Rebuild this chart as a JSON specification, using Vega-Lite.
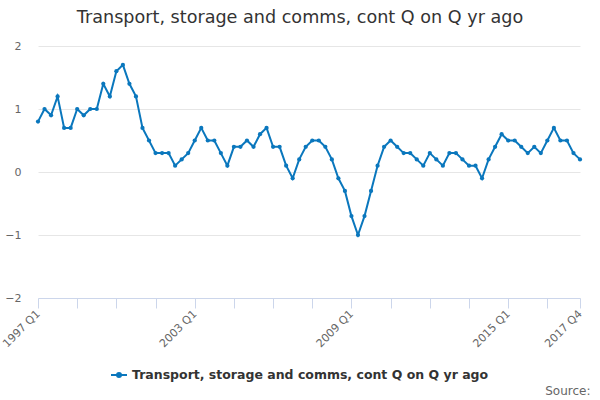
{
  "$schema": "https://vega.github.io/schema/vega-lite/v6.json",
  "description": "Transport, storage and comms, contribution Q on Q a year ago, 1997 Q1 to 2017 Q4",
  "width": 542,
  "height": 252,
  "autosize": {"type": "none"},
  "padding": {"left": 38, "top": 46, "right": 20, "bottom": 102},
  "background": "white",
  "title": {
    "text": "Transport, storage and comms, cont Q on Q yr ago",
    "anchor": "middle",
    "dx": -9,
    "offset": 13,
    "fontSize": 17.6,
    "fontWeight": "normal",
    "color": "#333333",
    "font": "DejaVu Sans"
  },
  "data": {
    "values": [
      {"quarter": "1997 Q1", "value": 0.8}, {"quarter": "1997 Q2", "value": 1.0}, {"quarter": "1997 Q3", "value": 0.9}, {"quarter": "1997 Q4", "value": 1.2},
      {"quarter": "1998 Q1", "value": 0.7}, {"quarter": "1998 Q2", "value": 0.7}, {"quarter": "1998 Q3", "value": 1.0}, {"quarter": "1998 Q4", "value": 0.9},
      {"quarter": "1999 Q1", "value": 1.0}, {"quarter": "1999 Q2", "value": 1.0}, {"quarter": "1999 Q3", "value": 1.4}, {"quarter": "1999 Q4", "value": 1.2},
      {"quarter": "2000 Q1", "value": 1.6}, {"quarter": "2000 Q2", "value": 1.7}, {"quarter": "2000 Q3", "value": 1.4}, {"quarter": "2000 Q4", "value": 1.2},
      {"quarter": "2001 Q1", "value": 0.7}, {"quarter": "2001 Q2", "value": 0.5}, {"quarter": "2001 Q3", "value": 0.3}, {"quarter": "2001 Q4", "value": 0.3},
      {"quarter": "2002 Q1", "value": 0.3}, {"quarter": "2002 Q2", "value": 0.1}, {"quarter": "2002 Q3", "value": 0.2}, {"quarter": "2002 Q4", "value": 0.3},
      {"quarter": "2003 Q1", "value": 0.5}, {"quarter": "2003 Q2", "value": 0.7}, {"quarter": "2003 Q3", "value": 0.5}, {"quarter": "2003 Q4", "value": 0.5},
      {"quarter": "2004 Q1", "value": 0.3}, {"quarter": "2004 Q2", "value": 0.1}, {"quarter": "2004 Q3", "value": 0.4}, {"quarter": "2004 Q4", "value": 0.4},
      {"quarter": "2005 Q1", "value": 0.5}, {"quarter": "2005 Q2", "value": 0.4}, {"quarter": "2005 Q3", "value": 0.6}, {"quarter": "2005 Q4", "value": 0.7},
      {"quarter": "2006 Q1", "value": 0.4}, {"quarter": "2006 Q2", "value": 0.4}, {"quarter": "2006 Q3", "value": 0.1}, {"quarter": "2006 Q4", "value": -0.1},
      {"quarter": "2007 Q1", "value": 0.2}, {"quarter": "2007 Q2", "value": 0.4}, {"quarter": "2007 Q3", "value": 0.5}, {"quarter": "2007 Q4", "value": 0.5},
      {"quarter": "2008 Q1", "value": 0.4}, {"quarter": "2008 Q2", "value": 0.2}, {"quarter": "2008 Q3", "value": -0.1}, {"quarter": "2008 Q4", "value": -0.3},
      {"quarter": "2009 Q1", "value": -0.7}, {"quarter": "2009 Q2", "value": -1.0}, {"quarter": "2009 Q3", "value": -0.7}, {"quarter": "2009 Q4", "value": -0.3},
      {"quarter": "2010 Q1", "value": 0.1}, {"quarter": "2010 Q2", "value": 0.4}, {"quarter": "2010 Q3", "value": 0.5}, {"quarter": "2010 Q4", "value": 0.4},
      {"quarter": "2011 Q1", "value": 0.3}, {"quarter": "2011 Q2", "value": 0.3}, {"quarter": "2011 Q3", "value": 0.2}, {"quarter": "2011 Q4", "value": 0.1},
      {"quarter": "2012 Q1", "value": 0.3}, {"quarter": "2012 Q2", "value": 0.2}, {"quarter": "2012 Q3", "value": 0.1}, {"quarter": "2012 Q4", "value": 0.3},
      {"quarter": "2013 Q1", "value": 0.3}, {"quarter": "2013 Q2", "value": 0.2}, {"quarter": "2013 Q3", "value": 0.1}, {"quarter": "2013 Q4", "value": 0.1},
      {"quarter": "2014 Q1", "value": -0.1}, {"quarter": "2014 Q2", "value": 0.2}, {"quarter": "2014 Q3", "value": 0.4}, {"quarter": "2014 Q4", "value": 0.6},
      {"quarter": "2015 Q1", "value": 0.5}, {"quarter": "2015 Q2", "value": 0.5}, {"quarter": "2015 Q3", "value": 0.4}, {"quarter": "2015 Q4", "value": 0.3},
      {"quarter": "2016 Q1", "value": 0.4}, {"quarter": "2016 Q2", "value": 0.3}, {"quarter": "2016 Q3", "value": 0.5}, {"quarter": "2016 Q4", "value": 0.7},
      {"quarter": "2017 Q1", "value": 0.5}, {"quarter": "2017 Q2", "value": 0.5}, {"quarter": "2017 Q3", "value": 0.3}, {"quarter": "2017 Q4", "value": 0.2}
    ]
  },
  "transform": [
    {"calculate": "'Transport, storage and comms, cont Q on Q yr ago'", "as": "series"}
  ],
  "mark": {
    "type": "line",
    "strokeWidth": 2,
    "point": {"filled": true, "size": 18}
  },
  "encoding": {
    "x": {
      "field": "quarter",
      "type": "ordinal",
      "sort": null,
      "scale": {"type": "point", "padding": 0},
      "axis": {
        "values": ["1997 Q1", "1998 Q3", "2000 Q1", "2001 Q3", "2003 Q1", "2004 Q3", "2006 Q1", "2007 Q3", "2009 Q1", "2010 Q3", "2012 Q1", "2013 Q3", "2015 Q1", "2016 Q3", "2017 Q4"],
        "labelExpr": "indexof(['1997 Q1', '2003 Q1', '2009 Q1', '2015 Q1', '2017 Q4'], datum.value) >= 0 ? datum.label : ''",
        "labelAngle": -45,
        "labelAlign": "right",
        "labelBaseline": "middle",
        "labelOverlap": false,
        "labelFontSize": 11,
        "labelColor": "#666666",
        "labelPadding": 4,
        "tickSize": 10,
        "tickColor": "#ccd6eb",
        "domainColor": "#ccd6eb",
        "grid": false,
        "title": "Source:",
        "titleFontSize": 12,
        "titleFontWeight": "normal",
        "titleColor": "#666666",
        "titleAlign": "right",
        "titleAnchor": "end",
        "titleBaseline": "alphabetic",
        "titleX": 552,
        "titleY": 96
      }
    },
    "y": {
      "field": "value",
      "type": "quantitative",
      "scale": {"domain": [-2, 2], "nice": false},
      "axis": {
        "values": [-2, -1, 0, 1, 2],
        "title": null,
        "domain": false,
        "ticks": false,
        "labelPadding": 17,
        "labelFontSize": 11,
        "labelColor": "#666666",
        "gridColor": "#e6e6e6"
      }
    },
    "color": {
      "field": "series",
      "type": "nominal",
      "scale": {"range": ["#0a77bd"]},
      "legend": {
        "title": null,
        "orient": "none",
        "legendX": 72,
        "legendY": 320,
        "symbolType": "M-1,0H1M-0.25,0A0.25,0.25 0 1,1 0.25,0A0.25,0.25 0 1,1 -0.25,0Z",
        "symbolSize": 256,
        "symbolStrokeWidth": 2,
        "symbolFillColor": "#0a77bd",
        "labelFontSize": 12.5,
        "labelFontWeight": "bold",
        "labelColor": "#333333",
        "labelOffset": 4,
        "labelLimit": 0
      }
    }
  },
  "config": {
    "font": "DejaVu Sans",
    "view": {"stroke": null}
  }
}
